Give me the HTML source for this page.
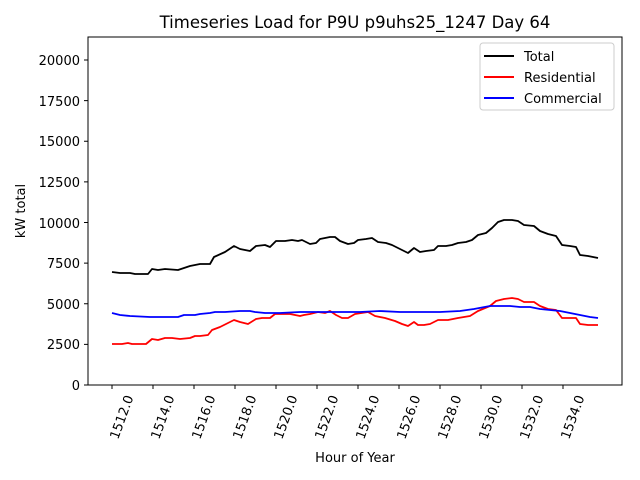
<!DOCTYPE html>
<html><head><meta charset="utf-8"><style>body{margin:0;background:#fff}svg{display:block}text{font-family:"DejaVu Sans","Liberation Sans",sans-serif;fill:#000}</style></head><body>
<svg width="640" height="480" viewBox="0 0 640 480">
<rect width="640" height="480" fill="#fff"/>
<text x="355" y="28" font-size="16.5" text-anchor="middle">Timeseries Load for P9U p9uhs25_1247  Day 64</text>
<g font-size="13" text-anchor="end">
<text x="80" y="390">0</text><text x="80" y="349">2500</text><text x="80" y="309">5000</text><text x="80" y="268">7500</text><text x="80" y="228">10000</text><text x="80" y="187">12500</text><text x="80" y="146">15000</text><text x="80" y="106">17500</text><text x="80" y="65">20000</text>
</g>
<g stroke="#000" stroke-width="1">
<path d="M84 385h4M84 344.4h4M84 303.8h4M84 263.1h4M84 222.5h4M84 181.9h4M84 141.3h4M84 100.6h4M84 60h4"/>
<path d="M112 385v4M153 385v4M194 385v4M235 385v4M276 385v4M317 385v4M358 385v4M399 385v4M440 385v4M481 385v4M522 385v4M563 385v4"/>
</g>
<g font-size="13">
<text transform="translate(118,440) rotate(-70)">1512.0</text>
<text transform="translate(159,440) rotate(-70)">1514.0</text>
<text transform="translate(200,440) rotate(-70)">1516.0</text>
<text transform="translate(241,440) rotate(-70)">1518.0</text>
<text transform="translate(282,440) rotate(-70)">1520.0</text>
<text transform="translate(323,440) rotate(-70)">1522.0</text>
<text transform="translate(364,440) rotate(-70)">1524.0</text>
<text transform="translate(405,440) rotate(-70)">1526.0</text>
<text transform="translate(446,440) rotate(-70)">1528.0</text>
<text transform="translate(487,440) rotate(-70)">1530.0</text>
<text transform="translate(528,440) rotate(-70)">1532.0</text>
<text transform="translate(569,440) rotate(-70)">1534.0</text>
</g>
<text x="355" y="462" font-size="13" text-anchor="middle">Hour of Year</text>
<text transform="translate(25,211) rotate(-90)" font-size="13" text-anchor="middle">kW total</text>
<g fill="none" stroke-width="1.8" stroke-linejoin="round">
<polyline stroke="#000" transform="translate(0,28)" points="112,244 120,245 130,245 135,246 148,246 152,241 158,242 165,241 178,242 190,238 200,236 210,236 214,229 225,224 234,218 240,221 250,223 256,218 265,217 270,219 276,213 285,213 292,212 298,213 302,212 310,216 316,215 320,211 330,209 335,209 340,213 348,216 354,215 358,212 366,211 372,210 378,214 386,215 392,217 398,220 404,223 408,225 414,220 420,224 426,223 434,222 438,218 446,218 452,217 458,215 466,214 472,212 478,207 486,205 492,200 498,194 504,192 512,192 518,193 524,197 534,198 540,203 548,206 556,208 562,217 570,218 576,219 580,227 588,228 598,230"/>
<polyline stroke="#f00" points="112,344 122,344 128,343 132,344 138,344 146,344 152,339 158,340 165,338 172,338 180,339 190,338 195,336 200,336 208,335 212,330 220,327 228,323 234,320 240,322 248,324 256,319 262,318 270,318 275,314 282,314 290,314 295,315 300,316 304,315 310,314 318,312 325,313 330,311 336,315 342,318 348,318 355,314 368,312 375,316 385,318 395,321 402,324 408,326 414,322 418,325 424,325 430,324 438,320 448,320 458,318 470,316 478,311 490,306 496,301 504,299 512,298 518,299 524,302 534,302 540,306 548,309 556,310 562,318 570,318 576,318 580,324 588,325 598,325"/>
<polyline stroke="#00f" points="112,313 120,315 130,316 150,317 165,317 178,317 184,315 195,315 200,314 210,313 215,312 225,312 240,311 250,311 255,312 265,313 280,313 300,312 320,312 340,312 360,312 380,311 400,312 420,312 440,312 460,311 474,309 490,306 500,306 510,306 520,307 530,307 540,309 560,311 575,314 585,316 590,317 598,318"/>
</g>
<rect x="88" y="37" width="534" height="348" fill="none" stroke="#000" stroke-width="1"/>
<rect x="480" y="43" width="134" height="67" rx="3" fill="#fff" fill-opacity="0.8" stroke="#ccc"/>
<g stroke-width="2"><path d="M484 56h30" stroke="#000"/><path d="M484 77h30" stroke="#f00"/><path d="M484 98h30" stroke="#00f"/></g>
<g font-size="13"><text x="524" y="61">Total</text><text x="524" y="82">Residential</text><text x="524" y="103">Commercial</text></g>
</svg>
</body></html>
